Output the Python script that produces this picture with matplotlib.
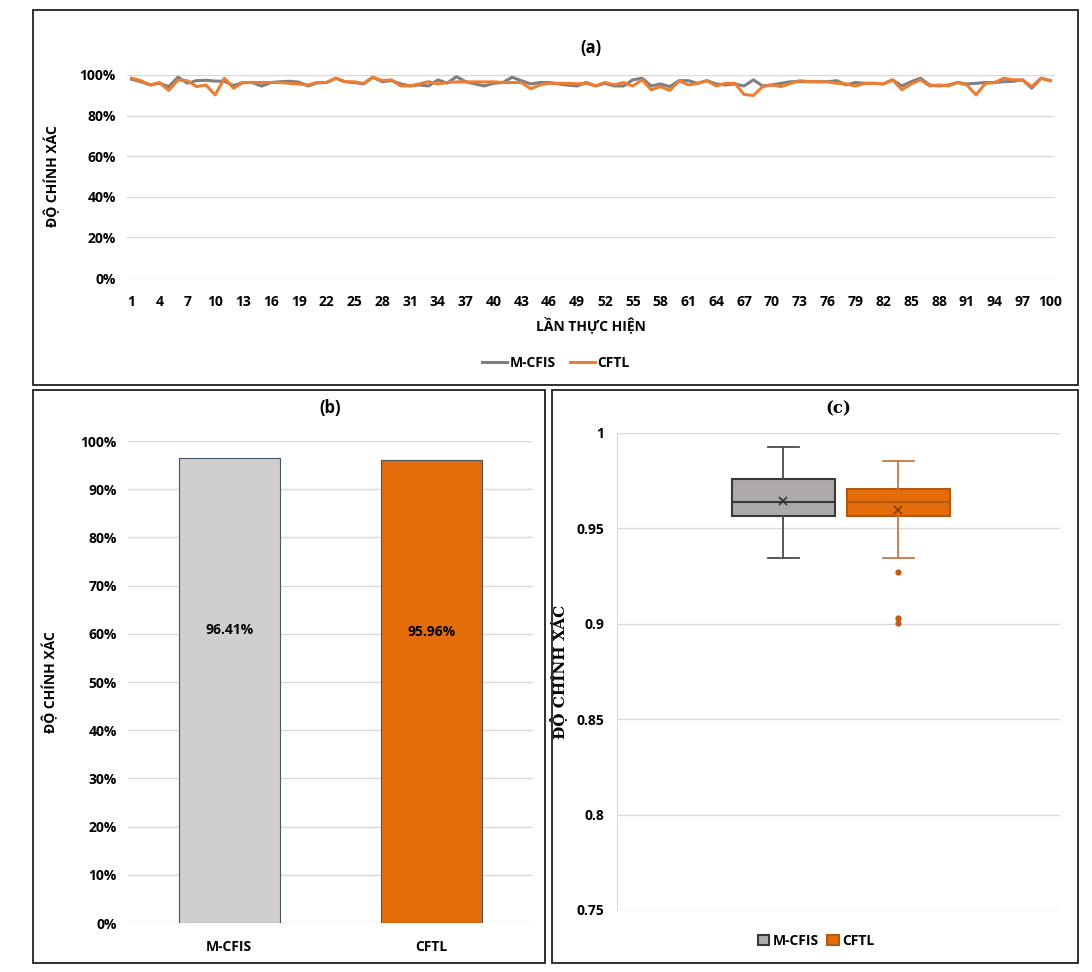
import matplotlib.pyplot as plt
import numpy as np
from matplotlib.patches import Rectangle, Patch
from matplotlib.lines import Line2D
from matplotlib.ticker import PercentFormatter, FuncFormatter

plt.rcParams['font.family'] = ['Open Sans', 'DejaVu Sans']
plt.rcParams['font.weight'] = 'bold'

# ---- data ----
runs = np.arange(1, 101)
mcfis_acc = [97.9, 96.7, 95.1, 95.9, 94.3, 98.9, 96.0, 97.2, 97.4, 97.0,
             96.9, 94.8, 96.3, 96.3, 94.5, 96.3, 96.7, 96.9, 96.5, 94.6,
             96.1, 96.3, 98.4, 96.7, 96.3, 95.6, 98.9, 96.7, 97.2, 95.6,
             94.6, 95.1, 94.6, 97.6, 96.0, 99.2, 96.7, 95.6, 94.6, 95.9,
             96.3, 98.9, 97.2, 95.6, 96.3, 96.3, 95.6, 95.0, 94.6, 96.3,
             94.6, 95.9, 94.6, 94.6, 97.6, 98.4, 94.6, 95.6, 94.3, 97.2,
             97.2, 95.9, 97.2, 95.6, 95.1, 95.6, 94.6, 97.6, 94.6, 95.1,
             95.9, 96.7, 96.7, 96.7, 96.7, 96.7, 97.2, 95.1, 96.3, 95.9,
             95.9, 95.6, 97.6, 94.6, 96.7, 98.4, 95.1, 94.6, 95.1, 96.3,
             95.6, 95.9, 96.3, 96.3, 96.7, 96.9, 97.6, 93.5, 98.4, 97.2]
cftl_acc = [98.4, 97.2, 95.1, 96.3, 92.4, 97.6, 97.2, 94.3, 95.1, 90.2,
            98.4, 93.5, 96.3, 96.3, 96.3, 96.3, 96.3, 95.9, 95.6, 95.1,
            96.3, 96.3, 98.4, 96.7, 96.6, 95.9, 98.9, 97.2, 97.6, 94.6,
            94.6, 95.6, 96.7, 95.6, 96.3, 96.6, 96.6, 96.6, 96.6, 96.6,
            96.3, 96.3, 96.3, 93.2, 95.1, 95.9, 95.9, 95.9, 95.6, 95.9,
            94.6, 96.3, 95.1, 96.3, 94.6, 97.6, 92.7, 94.3, 92.4, 97.2,
            95.1, 95.9, 97.2, 94.6, 95.9, 95.9, 90.4, 89.9, 94.3, 95.1,
            94.3, 95.9, 97.2, 96.7, 96.7, 96.6, 95.9, 95.6, 94.6, 95.9,
            95.9, 95.6, 97.6, 92.7, 95.6, 97.6, 94.6, 95.1, 94.6, 96.3,
            95.1, 90.2, 95.9, 96.3, 98.4, 97.6, 97.6, 94.3, 98.4, 97.2]

methods = ['M-CFIS', 'CFTL']
mean_acc = [0.9641, 0.9596]

# box plot summary
box_q1 = [0.9563, 0.9563]
box_med = [0.9638, 0.9638]
box_q3 = [0.9760, 0.9705]
box_lo = [0.9346, 0.9346]
box_hi = [0.9925, 0.9853]
box_mean = [0.9643, 0.9596]
box_fliers = [[], [0.9271, 0.9033, 0.9005]]

GRAY_LINE = '#7f7f7f'
ORANGE_LINE = '#ed7d31'
GRID = '#d9d9d9'
FS = 10

fig = plt.figure(figsize=(10.92, 9.72), dpi=100)

# panel frames
for x0, y0, x1, y1 in [(33, 10, 1078, 385), (33, 390, 545, 963), (552, 390, 1078, 963)]:
    fig.add_artist(Rectangle((x0 / 1092, 1 - y1 / 972), (x1 - x0) / 1092, (y1 - y0) / 972,
                             transform=fig.transFigure, fill=False, ec='#202020', lw=1.3))

# ---------------- (a) line chart ----------------
ax1 = fig.add_axes([127 / 1092, 1 - 278 / 972, (1055 - 127) / 1092, (278 - 75) / 972])
ax1.plot(runs, np.array(mcfis_acc) / 100, color=GRAY_LINE, lw=2.2, label='M-CFIS')
ax1.plot(runs, np.array(cftl_acc) / 100, color=ORANGE_LINE, lw=2.2, label='CFTL')
ax1.set_xlim(0.5, 100.5)
ax1.set_ylim(0, 1.0)
ax1.set_yticks(np.arange(0, 1.01, 0.2))
ax1.yaxis.set_major_formatter(PercentFormatter(1.0, decimals=0))
ax1.set_xticks(runs[::3])
ax1.grid(axis='y', color=GRID, lw=1)
ax1.set_axisbelow(True)
for s in ax1.spines.values():
    s.set_visible(False)
ax1.tick_params(length=0, labelsize=FS, pad=8)
ax1.tick_params(axis='x', pad=12)
ax1.set_ylabel('ĐỘ CHÍNH XÁC', fontsize=FS, fontweight='bold')
ax1.yaxis.set_label_coords(-0.072, 0.5)
ax1.set_xlabel('LẦN THỰC HIỆN', fontsize=FS, fontweight='bold', labelpad=6)
ax1.set_title('(a)', fontsize=12, fontweight='bold', pad=16)
fig.legend(handles=[Line2D([], [], color=GRAY_LINE, lw=2.2), Line2D([], [], color=ORANGE_LINE, lw=2.2)],
           labels=methods, loc='center', bbox_to_anchor=(556 / 1092, 1 - 363 / 972), ncol=2,
           frameon=False, fontsize=FS, handlelength=1.8, handletextpad=0.2, columnspacing=1.0)

# ---------------- (b) bar chart ----------------
ax2 = fig.add_axes([128 / 1092, 1 - 923 / 972, (533 - 128) / 1092, (923 - 441) / 972])
xb = np.arange(len(methods))
ax2.bar(xb, mean_acc, width=0.5, color=['#d0cece', '#e46c0a'], edgecolor='#44546a', lw=0.8)
for xi, v in zip(xb, mean_acc):
    ax2.text(xi, v * 0.63, f'{v * 100:.2f}%', ha='center', va='center', fontsize=FS, fontweight='bold')
ax2.set_xlim(-0.5, 1.5)
ax2.set_ylim(0, 1.0)
ax2.set_yticks(np.arange(0, 1.01, 0.1))
ax2.yaxis.set_major_formatter(PercentFormatter(1.0, decimals=0))
ax2.set_xticks(xb, methods)
ax2.grid(axis='y', color=GRID, lw=1)
ax2.set_axisbelow(True)
for s in ax2.spines.values():
    s.set_visible(False)
ax2.tick_params(length=0, labelsize=FS, pad=8)
ax2.tick_params(axis='x', pad=12)
ax2.set_ylabel('ĐỘ CHÍNH XÁC', fontsize=FS, fontweight='bold')
ax2.yaxis.set_label_coords(-0.173, 0.5)
ax2.set_title('(b)', fontsize=12, fontweight='bold', pad=20)

# ---------------- (c) box plot ----------------
ax3 = fig.add_axes([617 / 1092, 1 - 910 / 972, (1060 - 617) / 1092, (910 - 433) / 972])
stats = []
for i, m in enumerate(methods):
    stats.append(dict(label=m, q1=box_q1[i], med=box_med[i], q3=box_q3[i], whislo=box_lo[i],
                      whishi=box_hi[i], mean=box_mean[i], fliers=box_fliers[i]))
box_face = ['#aeaaaa', '#e46c0a']
box_edge = ['#3a3a3a', '#b35a10']
whisk_col = ['#4a4a4a', '#c47a45']
pos = [0.375, 0.635]
for i in range(2):
    ax3.bxp([stats[i]], positions=[pos[i]], widths=0.233, showmeans=True, patch_artist=True,
            capwidths=0.07,
            boxprops=dict(facecolor=box_face[i], edgecolor=box_edge[i], lw=1.5),
            medianprops=dict(color=box_edge[i], lw=1.5),
            whiskerprops=dict(color=whisk_col[i], lw=1.3),
            capprops=dict(color=whisk_col[i], lw=1.3),
            meanprops=dict(marker='x', markeredgecolor='#333333' if i == 0 else '#8a3e08',
                           markersize=6, markeredgewidth=1.2),
            flierprops=dict(marker='o', markerfacecolor='#c55a11', markeredgecolor='#c55a11',
                            markersize=3.5))
ax3.set_xlim(0, 1)
ax3.set_ylim(0.75, 1.0)
ax3.set_yticks(np.arange(0.75, 1.001, 0.05))
ax3.yaxis.set_major_formatter(FuncFormatter(lambda v, p: f'{v:.2f}'.rstrip('0').rstrip('.')))
ax3.set_xticks([])
ax3.grid(axis='y', color=GRID, lw=1)
ax3.set_axisbelow(True)
for k, s in ax3.spines.items():
    s.set_visible(k == 'left')
ax3.spines['left'].set_color(GRID)
ax3.tick_params(length=0, labelsize=FS, pad=9)
ax3.set_ylabel('ĐỘ CHÍNH XÁC', fontsize=11, fontweight='bold', family=['DejaVu Serif'])
ax3.yaxis.set_label_coords(-0.11, 0.5)
ax3.set_title('(c)', fontsize=12, fontweight='bold', family=['DejaVu Serif'], pad=14)
ax3.legend(handles=[Patch(fc=box_face[0], ec='#3a3a3a', lw=1.5), Patch(fc=box_face[1], ec='#b35a10', lw=1.5)],
           labels=methods, loc='center', bbox_to_anchor=(0.45, -0.065), ncol=2, frameon=False,
           fontsize=FS, handlelength=0.8, handleheight=0.8, handletextpad=0.3, columnspacing=0.6)

fig.savefig('out.png', dpi=100)
